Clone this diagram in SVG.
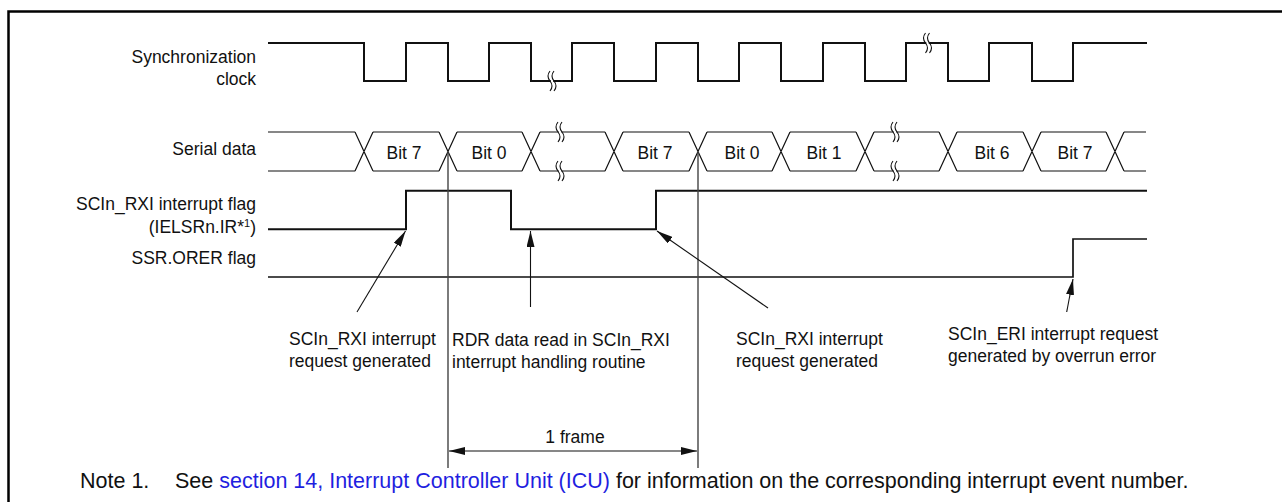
<svg xmlns="http://www.w3.org/2000/svg" width="1282" height="502" viewBox="0 0 1282 502">
<style>
text{font-family:"Liberation Sans",Arial,sans-serif;font-size:17.5px;fill:#111}
.lbl{text-anchor:end}
.bit{text-anchor:middle}
.sig{fill:none;stroke:#111;stroke-width:2;stroke-linejoin:miter}
.bus{fill:none;stroke:#111;stroke-width:1.2}
.thin{fill:none;stroke:#111;stroke-width:1.1}
.vl{fill:none;stroke:#444;stroke-width:1.4}
.sq{fill:none;stroke:#111;stroke-width:1.1}
.gap{fill:#fff;stroke:none}
.note{font-size:21.5px}
.link{fill:#1f1fe0}
</style>
<defs>
<marker id="ah" viewBox="0 0 16 8" markerUnits="userSpaceOnUse" markerWidth="16" markerHeight="8" refX="16" refY="4" orient="auto-start-reverse">
<path d="M0,0 L16,4 L0,8 z" fill="#111"/>
</marker>
<path id="sq" d="M0,-10 q-4,5 0,10 q4,5 0,10"/>
</defs>
<rect width="1282" height="502" fill="#fff"/>
<path d="M1282,11.5 H8.5 V502" fill="none" stroke="#000" stroke-width="2.5"/>

<g id="labels">
<text class="lbl" x="256" y="63">Synchronization</text>
<text class="lbl" x="256" y="85">clock</text>
<text class="lbl" x="256" y="154.5">Serial data</text>
<text class="lbl" x="256" y="210">SCIn_RXI interrupt flag</text>
<text class="lbl" x="256" y="233">(IELSRn.IR*<tspan font-size="11" dy="-6">1</tspan><tspan dy="6">)</tspan></text>
<text class="lbl" x="256" y="263.5">SSR.ORER flag</text>
</g>

<g id="clock">
<polyline class="sig" points="268,43 364,43 364,81 406,81 406,43 448,43 448,81 489,81 489,43 531,43 531,81 572,81 572,43 614,43 614,81 656,81 656,43 698,43 698,81 739,81 739,43 781,43 781,81 823,81 823,43 865,43 865,81 906,81 906,43 948,43 948,81 989,81 989,43 1032,43 1032,81 1073,81 1073,43 1147,43"/>
<rect class="gap" x="550.8" y="77" width="2.4" height="8"/>
<use href="#sq" class="sq" x="550" y="81"/>
<use href="#sq" class="sq" x="554" y="81"/>
<rect class="gap" x="926.3" y="39" width="2.4" height="8"/>
<use href="#sq" class="sq" x="925.5" y="43"/>
<use href="#sq" class="sq" x="929.5" y="43"/>
</g>

<g id="serial-data">
<path class="bus" d="M268,132 H355 M268,171 H355
M355,132 L373,171 M355,171 L373,132
M373,132 H439 M373,171 H439 M439,132 L457,171 M439,171 L457,132
M457,132 H522 M457,171 H522 M522,132 L540,171 M522,171 L540,132
M540,132 H605 M540,171 H605 M605,132 L623,171 M605,171 L623,132
M623,132 H689 M623,171 H689 M689,132 L707,171 M689,171 L707,132
M707,132 H772 M707,171 H772 M772,132 L790,171 M772,171 L790,132
M790,132 H856 M790,171 H856 M856,132 L874,171 M856,171 L874,132
M874,132 H939 M874,171 H939 M939,132 L957,171 M939,171 L957,132
M957,132 H1023 M957,171 H1023 M1023,132 L1041,171 M1023,171 L1041,132
M1041,132 H1106 M1041,171 H1106 M1106,132 L1124,171 M1106,171 L1124,132
M1124,132 H1146 M1124,171 H1146"/>
<rect class="gap" x="558.8" y="129" width="2.4" height="6"/>
<rect class="gap" x="558.8" y="168" width="2.4" height="6"/>
<use href="#sq" class="sq" x="558" y="132"/>
<use href="#sq" class="sq" x="562" y="132"/>
<use href="#sq" class="sq" x="558" y="171"/>
<use href="#sq" class="sq" x="562" y="171"/>
<rect class="gap" x="893.8" y="129" width="2.4" height="6"/>
<rect class="gap" x="893.8" y="168" width="2.4" height="6"/>
<use href="#sq" class="sq" x="893" y="132"/>
<use href="#sq" class="sq" x="897" y="132"/>
<use href="#sq" class="sq" x="893" y="171"/>
<use href="#sq" class="sq" x="897" y="171"/>
<text class="bit" x="404" y="158.5">Bit 7</text>
<text class="bit" x="489" y="158.5">Bit 0</text>
<text class="bit" x="655" y="158.5">Bit 7</text>
<text class="bit" x="742" y="158.5">Bit 0</text>
<text class="bit" x="824" y="158.5">Bit 1</text>
<text class="bit" x="992" y="158.5">Bit 6</text>
<text class="bit" x="1075" y="158.5">Bit 7</text>
</g>

<g id="rxi-flag">
<polyline class="sig" points="268,229.3 406,229.3 406,190.7 511,190.7 511,229.3 656,229.3 656,190.7 1147,190.7"/>
</g>

<g id="orer-flag">
<polyline class="sig" style="stroke-width:1.7" points="268,277 1073,277 1073,239 1147,239"/>
</g>

<g id="connectors">
<line class="vl" x1="448" y1="151" x2="448" y2="468"/>
<line class="vl" x1="698" y1="151" x2="698" y2="468"/>
<line class="thin" x1="357" y1="312" x2="405.5" y2="231" marker-end="url(#ah)"/>
<line class="thin" x1="530.5" y1="307" x2="530.5" y2="231" marker-end="url(#ah)"/>
<line class="thin" x1="768" y1="308" x2="657" y2="231" marker-end="url(#ah)"/>
<line class="thin" x1="1066.7" y1="312" x2="1073" y2="279" marker-end="url(#ah)"/>
<line class="thin" x1="449" y1="451" x2="697" y2="451" marker-start="url(#ah)" marker-end="url(#ah)"/>
</g>

<g id="annotations">
<text x="289" y="345">SCIn_RXI interrupt</text>
<text x="289" y="367">request generated</text>
<text x="452" y="346">RDR data read in SCIn_RXI</text>
<text x="452" y="368">interrupt handling routine</text>
<text x="736" y="345">SCIn_RXI interrupt</text>
<text x="736" y="367">request generated</text>
<text x="948" y="340">SCIn_ERI interrupt request</text>
<text x="948" y="362">generated by overrun error</text>
<text x="575" y="443" text-anchor="middle">1 frame</text>
</g>

<g id="note">
<text class="note" x="80" y="488">Note 1.</text>
<text class="note" x="175" y="488">See <tspan class="link">section 14, Interrupt Controller Unit (ICU)</tspan> for information on the corresponding interrupt event number.</text>
</g>
</svg>
